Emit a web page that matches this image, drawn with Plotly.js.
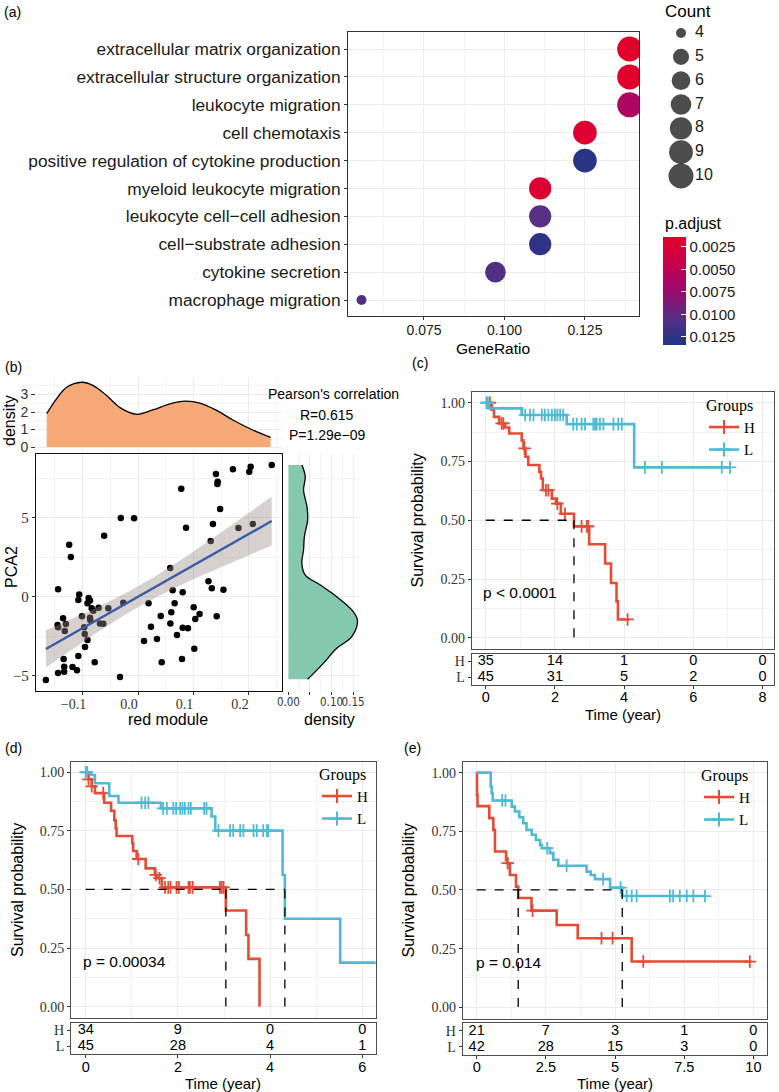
<!DOCTYPE html>
<html><head><meta charset="utf-8">
<script src="https://cdn.plot.ly/plotly-3.0.1.min.js"></script>
<style>html,body{margin:0;padding:0;background:#fff}</style>
</head><body><div id="chart" style="width:779px;height:1092px"></div>
<script>
// ---------------- DATA ----------------
// (a) GO enrichment dot plot
const goTerms = ["extracellular matrix organization","extracellular structure organization","leukocyte migration","cell chemotaxis","positive regulation of cytokine production","myeloid leukocyte migration","leukocyte cell\u2212cell adhesion","cell\u2212substrate adhesion","cytokine secretion","macrophage migration"];
const geneRatio = [0.1389,0.1389,0.1389,0.125,0.125,0.1111,0.1111,0.1111,0.0972,0.0556];
const goCount = [10,10,10,9,9,8,8,8,7,4];
const pAdjust = [0.0015,0.0015,0.0062,0.0019,0.0128,0.0021,0.0104,0.0124,0.0106,0.0107];
const countLegend = [4,5,6,7,8,9,10];
const pTicks = [0.0025,0.0050,0.0075,0.0100,0.0125];
const geneRatioTicks = [0.075,0.100,0.125];

// (b) correlation scatter with marginal densities
const redModule = [0.241,0.203,0.2005,0.171,0.1405,0.1436,0.143,0.078,0.148,-0.031,-0.007,0.135,0.0865,0.181,0.207,-0.061,0.131,-0.124,-0.121,0.058,-0.144,0.127,0.133,0.154,0.0625,0.0805,-0.106,-0.089,
 -0.166,-0.145,-0.144,-0.135,-0.132,-0.130,-0.134,-0.133,-0.133,-0.144,-0.118,-0.110,-0.1075,-0.1075,-0.101,-0.097,-0.096,-0.0955,-0.091,-0.0865,-0.091,-0.0835,-0.0805,-0.0865,-0.086,-0.078,-0.071,-0.0685,-0.0625,-0.0535,-0.0324,-0.0265,
 0.0108,0.019,0.0234,0.0342,0.041,0.0427,0.0583,0.060,0.066,0.0703,0.0793,0.0805,0.090,0.1003,0.1015,0.1033,0.111,0.1418];
const pca2 = [8.35,8.25,7.93,8.08,7.78,7.30,7.15,6.85,5.57,5.0,4.98,4.62,4.39,4.37,4.62,3.88,3.54,3.31,2.53,1.84,0.49,0.99,0.55,0.46,0.42,0.30,0.15,-0.06,
 -5.25,-1.77,-1.92,-1.35,-2.15,-1.71,-3.92,-4.41,-4.73,-4.81,-4.43,-4.64,-3.73,-0.19,-1.22,-1.92,-2.34,-3.16,-2.72,-0.23,-0.40,-0.72,-0.87,-1.31,-1.46,-4.13,-0.68,-1.67,-1.69,-0.72,-5.06,-0.36,
 -2.78,-0.40,-1.88,-2.66,-1.20,-4.13,-1.67,-0.97,-0.40,-2.41,-3.92,-1.94,-1.98,-0.65,-3.27,-1.39,-1.08,-1.22];
const topDensX = [-0.1645,-0.1465,-0.1285,-0.1015,-0.0805,-0.0565,-0.0324,-0.0023,0.0276,0.0577,0.0847,0.1117,0.1418,0.1718,0.2077,0.239];
const topDensY = [1.91,2.76,3.41,3.70,3.51,2.94,2.25,1.87,2.13,2.47,2.62,2.51,2.09,1.53,0.96,0.55];
const rightDensX = [0.0315,0.039,0.035,0.043,0.0445,0.037,0.035,0.031,0.039,0.074,0.112,0.147,0.160,0.147,0.112,0.081,0.0445];
const rightDensY = [8.35,7.61,6.77,5.72,4.87,3.82,2.97,2.13,1.39,0.76,0.02,-0.82,-1.46,-2.51,-3.25,-4.20,-5.21];

// (c) Kaplan-Meier
const cHTime = [0,0.17,0.24,0.39,0.56,0.68,1.04,1.09,1.15,1.23,1.55,1.60,1.65,1.91,2.03,2.17,2.55,2.99,3.45,3.62,3.78,3.82,4.15];
const cHSurv = [1.0,0.97,0.94,0.912,0.895,0.869,0.84,0.806,0.77,0.735,0.706,0.678,0.628,0.592,0.571,0.528,0.474,0.398,0.316,0.233,0.155,0.078,0.078];
const cHCens = [0.12,0.46,0.51,1.12,1.74,1.81,2.07,2.29,2.77,2.92,2.96,4.10];
const cLTime = [0,0.08,1.04,2.34,4.29,7.08];
const cLSurv = [1.0,0.976,0.948,0.909,0.725,0.725];
const cLCens = [0.02,0.06,1.14,1.28,1.38,1.62,1.71,1.81,1.91,2.0,2.07,2.15,2.24,2.53,2.63,2.77,2.87,3.11,3.16,3.21,3.30,3.40,3.69,3.83,3.93,4.6,5.09,6.82,7.06];
const cRiskTimes = [0,2,4,6,8];
const cRiskH = [35,14,1,0,0];
const cRiskL = [45,31,5,2,0];

// (d) Kaplan-Meier
const dHTime = [0,0.06,0.13,0.20,0.40,0.55,0.62,0.65,0.67,1.01,1.03,1.105,1.30,1.50,1.55,1.65,3.04,3.48,3.53,3.77];
const dHSurv = [1.0,0.97,0.94,0.911,0.870,0.836,0.796,0.761,0.728,0.697,0.664,0.630,0.590,0.562,0.548,0.509,0.410,0.306,0.204,0.0];
const dHCens = [0.06,0.13,0.38,1.14,1.52,1.60,1.72,1.79,1.84,1.97,2.02,2.23,2.26,2.32,2.91,2.95,2.99];
const dLTime = [0,0.11,0.20,0.51,0.71,1.63,2.73,2.81,4.27,4.32,5.52,6.5];
const dLSurv = [1.0,0.988,0.953,0.899,0.870,0.846,0.811,0.751,0.562,0.375,0.188,0.188];
const dLCens = [0.0,0.03,1.21,1.29,1.36,1.68,1.76,1.90,1.96,2.05,2.10,2.15,2.23,2.28,2.57,2.62,2.88,3.13,3.20,3.35,3.42,3.64,3.71,3.85,3.93,3.96];
const dRiskTimes = [0,2,4,6];
const dRiskH = [34,9,0,0];
const dRiskL = [45,28,4,1];

// (e) Kaplan-Meier
const eHTime = [0,0.01,0.03,0.456,0.60,0.66,1.06,1.10,1.20,1.42,1.50,1.98,2.89,3.65,5.6,9.93];
const eHSurv = [1,0.905,0.857,0.806,0.756,0.664,0.628,0.614,0.564,0.514,0.466,0.412,0.351,0.294,0.195,0.195];
const eHCens = [1.12,2.02,4.51,4.91,6.02,9.87];
const eLTime = [0,0.505,0.54,0.577,1.263,1.38,1.54,1.68,1.80,1.99,2.14,2.29,2.35,2.65,2.77,2.95,3.97,4.12,4.27,4.82,5.26,8.31];
const eLSurv = [1,0.941,0.912,0.881,0.855,0.834,0.81,0.784,0.756,0.735,0.713,0.692,0.678,0.657,0.629,0.603,0.578,0.564,0.546,0.510,0.474,0.474];
const eLCens = [0.92,1.04,2.55,3.25,4.57,5.20,5.42,5.60,5.78,6.98,7.10,7.34,7.59,7.83,8.25];
const eRiskTimes = [0,2.5,5,7.5,10];
const eRiskH = [21,7,3,1,0];
const eRiskL = [42,28,15,3,0];

// ---------------- HELPERS ----------------
const W=779, H=1092;
const dx=(l,r)=>[l/W, r/W];
const dy=(t,b)=>[1-b/H, 1-t/H];
const SANS='Arial, "Liberation Sans", sans-serif';
const NARROW='"Liberation Sans Narrow", "Arial Narrow", "DejaVu Sans Condensed", Arial, sans-serif';
const SERIF='"Times New Roman", "Liberation Serif", serif';
const GRID='#EBEBEB', MINOR='#F3F3F3';
const RED='#E64B35', BLUE='#4DBBD5';
const traces=[];
const layout={width:W,height:H,margin:{l:0,r:0,t:0,b:0},paper_bgcolor:'#fff',plot_bgcolor:'rgba(0,0,0,0)',
  font:{family:SANS,color:'#000'},annotations:[],showlegend:true};
function ann(text,x,y,o){layout.annotations.push(Object.assign({text:text,x:x/W,y:1-y/H,xref:'paper',yref:'paper',showarrow:false,xanchor:'center',yanchor:'middle',font:{family:SANS,size:15,color:'#000'}},o||{}));}
function survAt(time,surv,t){let s=surv[0];for(let i=0;i<time.length;i++){if(time[i]<=t)s=surv[i];}return s;}

// ---------------- (a) ----------------
const sizeOf=c=>10+15*Math.sqrt((c-4)/6);
traces.push({type:'scatter',mode:'markers',x:geneRatio,y:goTerms,xaxis:'x',yaxis:'y',showlegend:false,hoverinfo:'skip',
  marker:{size:goCount.map(sizeOf),color:pAdjust.map(p=>-p),cmin:-0.0134,cmax:-0.00139,opacity:1,
    colorscale:[[0,'#1C3586'],[0.25,'#572F84'],[0.5,'#9A0A6E'],[0.75,'#C8004C'],[1,'#E2002A']],line:{width:0},
    colorbar:{x:663/W,xanchor:'left',xref:'paper',y:1-291/H,yanchor:'middle',yref:'paper',len:108,lenmode:'pixels',thickness:23,thicknessmode:'pixels',
      outlinewidth:0,xpad:0,ypad:0,tickvals:pTicks.map(v=>-v),ticktext:pTicks.map(v=>v.toFixed(4)),ticks:'inside',ticklen:5,tickcolor:'#fff',
      tickfont:{family:SANS,size:15,color:'#1a1a1a'}}}});
layout.xaxis={domain:dx(348,639),range:[0.0514,0.1418],tickvals:geneRatioTicks,ticktext:geneRatioTicks.map(v=>v.toFixed(3)),ticks:'outside',ticklen:3,tickcolor:'#333',
  tickfont:{size:14,color:'#1a1a1a'},ticklabelstandoff:-2,showgrid:true,gridcolor:GRID,minor:{tickvals:[0.0625,0.0875,0.1125,0.1375],showgrid:true,gridcolor:MINOR,ticks:''},
  showline:true,mirror:true,linecolor:'#333',linewidth:1,zeroline:false,anchor:'y'};
layout.yaxis={domain:dy(32,316),type:'category',categoryorder:'array',categoryarray:goTerms.slice().reverse(),range:[-0.573,9.61],ticks:'outside',ticklen:3,tickcolor:'#333',
  tickfont:{size:17.3,color:'#1a1a1a'},showgrid:true,gridcolor:GRID,showline:true,mirror:true,linecolor:'#333',zeroline:false,anchor:'x'};
// size legend
traces.push({type:'scatter',mode:'markers',x:countLegend.map(()=>0.3),y:countLegend,xaxis:'x2',yaxis:'y2',showlegend:false,hoverinfo:'skip',
  marker:{size:countLegend.map(sizeOf),color:'#000',line:{width:0}},cliponaxis:false});
traces.push({type:'scatter',mode:'text',x:countLegend.map(()=>0.5),y:countLegend,text:countLegend.map(String),textposition:'middle right',
  textfont:{family:SANS,size:16,color:'#1a1a1a'},xaxis:'x2',yaxis:'y2',showlegend:false,hoverinfo:'skip',cliponaxis:false});
layout.xaxis2={domain:dx(660,730),range:[0,1],visible:false,anchor:'y2'};
layout.yaxis2={domain:dy(20,190),range:[10.587,3.455],visible:false,anchor:'x2'};
ann('(a)',12,12,{font:{family:SANS,size:14,color:'#000'}});
ann('Count',663,12,{xanchor:'left',font:{family:SANS,size:17,color:'#000'}});
ann('p.adjust',663,224,{xanchor:'left',font:{family:SANS,size:16,color:'#000'}});
ann('GeneRatio',493,348,{font:{family:SANS,size:15.5,color:'#000'}});

// ---------------- (b) ----------------
const n=redModule.length;
const mx=redModule.reduce((a,b)=>a+b,0)/n, my=pca2.reduce((a,b)=>a+b,0)/n;
let sxx=0,sxy=0;for(let i=0;i<n;i++){sxx+=(redModule[i]-mx)**2;sxy+=(redModule[i]-mx)*(pca2[i]-my);}
const slope=sxy/sxx, icpt=my-slope*mx;
let sse=0;for(let i=0;i<n;i++){sse+=(pca2[i]-icpt-slope*redModule[i])**2;}
const sres=Math.sqrt(sse/(n-2)), tq=1.991;
const xmin=Math.min(...redModule), xmax=Math.max(...redModule);
const fx=[];for(let k=0;k<=60;k++)fx.push(xmin+(xmax-xmin)*k/60);
const fy=fx.map(x=>icpt+slope*x);
const fse=fx.map(x=>tq*sres*Math.sqrt(1/n+(x-mx)**2/sxx));
traces.push({type:'scatter',mode:'markers',x:redModule,y:pca2,xaxis:'x4',yaxis:'y4',showlegend:false,hoverinfo:'skip',marker:{size:6.5,color:'#000'}});
traces.push({type:'scatter',mode:'lines',x:fx.concat(fx.slice().reverse()),y:fy.map((v,i)=>v+fse[i]).concat(fy.map((v,i)=>v-fse[i]).reverse()),fill:'toself',
  fillcolor:'rgba(153,140,135,0.4)',line:{width:0},xaxis:'x4',yaxis:'y4',showlegend:false,hoverinfo:'skip'});
traces.push({type:'scatter',mode:'lines',x:fx,y:fy,line:{color:'#3A5BA6',width:2.4},xaxis:'x4',yaxis:'y4',showlegend:false,hoverinfo:'skip'});
traces.push({type:'scatter',mode:'lines',x:topDensX,y:topDensY,fill:'tozeroy',fillcolor:'#F5A977',line:{color:'#000',width:1.3,shape:'spline'},xaxis:'x3',yaxis:'y3',showlegend:false,hoverinfo:'skip'});
traces.push({type:'scatter',mode:'lines',x:rightDensX,y:rightDensY,fill:'tozerox',fillcolor:'#84C8AF',line:{color:'#000',width:1.3,shape:'spline'},xaxis:'x5',yaxis:'y5',showlegend:false,hoverinfo:'skip'});
const bx=[-0.1838,0.2595], by=[-5.95,9.05];
layout.xaxis3={domain:dx(36,282),range:bx,tickvals:[-0.1,0,0.1,0.2],showticklabels:false,ticks:'',showgrid:true,gridcolor:GRID,
  minor:{tickvals:[-0.15,-0.05,0.05,0.15,0.25],showgrid:true,gridcolor:MINOR},zeroline:false,showline:false,anchor:'y3'};
layout.yaxis3={domain:dy(377,450),range:[-0.17,4.0],tickvals:[0,1,2,3],ticks:'outside',ticklen:4,tickcolor:'#333',tickfont:{family:SANS,size:14,color:'#333'},
  showgrid:true,gridcolor:GRID,minor:{tickvals:[0.5,1.5,2.5,3.5],showgrid:true,gridcolor:MINOR},zeroline:false,showline:false,anchor:'x3'};
layout.xaxis4={domain:dx(36,282),range:bx,tickvals:[-0.1,0,0.1,0.2],ticktext:['\u22120.1','0.0','0.1','0.2'],ticks:'outside',ticklen:3,tickcolor:'#333',
  tickfont:{family:SERIF,size:14,color:'#333'},ticklabelshift:-9,ticklabelstandoff:-3,showgrid:true,gridcolor:GRID,minor:{tickvals:[-0.15,-0.05,0.05,0.15,0.25],showgrid:true,gridcolor:MINOR},
  showline:true,mirror:true,linecolor:'#111',linewidth:1.2,zeroline:false,anchor:'y4'};
layout.yaxis4={domain:dy(454,691),range:by,tickvals:[-5,0,5],ticktext:['\u22125','0','5'],ticks:'outside',ticklen:3,tickcolor:'#333',
  tickfont:{family:SERIF,size:15,color:'#333'},showgrid:true,gridcolor:GRID,minor:{tickvals:[-2.5,2.5,7.5],showgrid:true,gridcolor:MINOR},
  showline:true,mirror:true,linecolor:'#111',linewidth:1.2,zeroline:false,anchor:'x4'};
layout.xaxis5={domain:dx(288,360),range:[-0.001,0.166],tickvals:[0,0.05,0.1,0.15],ticktext:['0.00','','0.10','0.15'],tickangle:0,ticks:'outside',ticklen:3,tickcolor:'#333',
  tickfont:{family:NARROW,size:11.5,color:'#333'},ticklabelstandoff:-3,showgrid:true,gridcolor:GRID,minor:{tickvals:[0.025,0.075,0.125],showgrid:true,gridcolor:MINOR},zeroline:false,showline:false,anchor:'y5'};
layout.yaxis5={domain:dy(454,691),range:by,tickvals:[-5,0,5],showticklabels:false,ticks:'',showgrid:true,gridcolor:GRID,
  minor:{tickvals:[-2.5,2.5,7.5],showgrid:true,gridcolor:MINOR},zeroline:false,showline:false,anchor:'x5'};
ann('(b)',13,367,{font:{family:SANS,size:14,color:'#000'}});
ann('density',10,421,{textangle:-90,font:{family:SANS,size:16,color:'#000'}});
ann('PCA2',11,567,{textangle:-90,font:{family:SANS,size:16,color:'#000'}});
ann('red module',168,719,{font:{family:SANS,size:16,color:'#000'}});
ann('density',329,719,{font:{family:SANS,size:16,color:'#000'}});
ann("Pearson's correlation",333,394,{font:{family:SANS,size:14,color:'#000'}});
ann('R=0.615',327,415,{font:{family:SANS,size:14,color:'#000'}});
ann('P=1.29e\u221209',327,435,{font:{family:SANS,size:14,color:'#000'}});

// ---------------- KM panels ----------------
function addKM(c){
  const xm='x'+c.n, ym='y'+c.n, xt='x'+(c.n+1), yt='y'+(c.n+1);
  const groups=[['H',c.HT,c.HS,c.HC,RED],['L',c.LT,c.LS,c.LC,BLUE]];
  const meds=[];
  groups.forEach(g=>{
    traces.push({type:'scatter',mode:'lines',x:g[1],y:g[2],line:{shape:'hv',color:g[4],width:2.6},xaxis:xm,yaxis:ym,showlegend:false,hoverinfo:'skip'});
    traces.push({type:'scatter',mode:'markers',x:g[3],y:g[3].map(t=>survAt(g[1],g[2],t)),marker:{symbol:'cross-thin',size:9,line:{color:g[4],width:1.8}},
      xaxis:xm,yaxis:ym,showlegend:false,hoverinfo:'skip',cliponaxis:false});
    const i=g[2].findIndex(s=>s<=0.5); if(i>=0) meds.push(g[1][i]);
  });
  if(meds.length){
    const m=Math.max(...meds);
    traces.push({type:'scatter',mode:'lines',x:[0,m],y:[0.5,0.5],line:{color:'#000',width:1.3,dash:'dash'},xaxis:xm,yaxis:ym,showlegend:false,hoverinfo:'skip'});
    meds.forEach(v=>traces.push({type:'scatter',mode:'lines',x:[v,v],y:[0.5,0],line:{color:'#000',width:1.3,dash:'dash'},xaxis:xm,yaxis:ym,showlegend:false,hoverinfo:'skip'}));
  }
  groups.forEach(g=>traces.push({type:'scatter',mode:'lines+markers',x:[null],y:[null],name:g[0],legend:c.legend,
    line:{color:g[4],width:2.6},marker:{symbol:'cross-thin',size:10,line:{color:g[4],width:2}},xaxis:xm,yaxis:ym,hoverinfo:'skip'}));
  const rt=c.RT;
  traces.push({type:'scatter',mode:'text',x:rt.concat(rt),y:rt.map(()=>1).concat(rt.map(()=>0)),text:c.RH.concat(c.RL).map(String),
    textfont:{family:SANS,size:14.5,color:'#000'},xaxis:xt,yaxis:yt,showlegend:false,hoverinfo:'skip',cliponaxis:false});
  const ax={range:c.xr,tickvals:rt,showgrid:true,gridcolor:GRID,minor:{tickvals:c.minor,showgrid:true,gridcolor:MINOR},zeroline:false,
    showline:true,mirror:true,linecolor:'#4d4d4d',linewidth:1};
  layout['xaxis'+c.n]=Object.assign({},ax,{domain:dx(c.l,c.r),showticklabels:false,ticks:'',anchor:ym});
  layout['yaxis'+c.n]={domain:dy(c.t,c.b),range:c.yr,tickvals:[0,0.25,0.5,0.75,1],ticktext:['0.00','0.25','0.50','0.75','1.00'],ticks:'outside',ticklen:3,tickcolor:'#333',
    tickfont:{family:SERIF,size:14,color:'#333'},showgrid:true,gridcolor:GRID,minor:{tickvals:[0.125,0.375,0.625,0.875],showgrid:true,gridcolor:MINOR},
    zeroline:false,showline:true,mirror:true,linecolor:'#4d4d4d',linewidth:1,anchor:xm};
  layout['xaxis'+(c.n+1)]={domain:dx(c.l,c.r),range:c.xr,tickvals:rt,ticktext:c.RTT,ticks:'outside',ticklen:3,tickcolor:'#333',tickfont:{family:SANS,size:14.5,color:'#000'},
    ticklabelstandoff:-4,showgrid:false,zeroline:false,showline:true,mirror:true,linecolor:'#4d4d4d',linewidth:1,anchor:yt};
  layout['yaxis'+(c.n+1)]={domain:dy(c.tt,c.tb),range:c.tr,tickvals:[1,0],ticktext:['H','L'],ticks:'outside',ticklen:3,tickcolor:'#333',
    tickfont:{family:SERIF,size:14,color:'#333'},showgrid:false,zeroline:false,showline:true,mirror:true,linecolor:'#4d4d4d',linewidth:1,anchor:xt};
  layout[c.legendKey]={x:c.lx/W,y:1-c.ly/H,xanchor:'left',yanchor:'top',bgcolor:'rgba(0,0,0,0)',borderwidth:0,tracegroupgap:0,
    title:{text:'Groups',font:{family:SERIF,size:16,color:'#000'}},font:{family:SERIF,size:15,color:'#000'},itemwidth:30};
  ann(c.label,c.labx,c.laby,{font:{family:SANS,size:14,color:'#000'}});
  ann('Survival probability',c.spx,(c.t+c.b)/2,{textangle:-90,font:{family:SANS,size:16,color:'#000'}});
  ann('Time (year)',(c.l+c.r)/2,c.tyy,{font:{family:SANS,size:15,color:'#000'}});
  ann(c.ptext,c.px,c.py,{font:{family:SANS,size:15.5,color:'#000'}});
}
addKM({n:6,HT:cHTime,HS:cHSurv,HC:cHCens,LT:cLTime,LS:cLSurv,LC:cLCens,RT:cRiskTimes,RTT:cRiskTimes.map(String),RH:cRiskH,RL:cRiskL,
  l:471.7,r:774,t:391.7,b:649.3,tt:654,tb:685,xr:[-0.405,8.33],yr:[-0.049,1.047],tr:[-0.5,1.4375],minor:[1,3,5,7],
  legend:'legend',legendKey:'legend',lx:704,ly:390,label:'(c)',labx:420,laby:363,spx:417,tyy:714,ptext:'p < 0.0001',px:520,py:592});
addKM({n:8,HT:dHTime,HS:dHSurv,HC:dHCens,LT:dLTime,LS:dLSurv,LC:dLCens,RT:dRiskTimes,RTT:dRiskTimes.map(String),RH:dRiskH,RL:dRiskL,
  l:71,r:375.7,t:761.7,b:1018.3,tt:1022.7,tb:1054.3,xr:[-0.319,6.29],yr:[-0.0495,1.045],tr:[-0.49,1.49],minor:[1,3,5],
  legend:'legend2',legendKey:'legend2',lx:317,ly:759,label:'(d)',labx:13,laby:748,spx:17,tyy:1083.5,ptext:'p = 0.00034',px:124,py:961});
addKM({n:10,HT:eHTime,HS:eHSurv,HC:eHCens,LT:eLTime,LS:eLSurv,LC:eLCens,RT:eRiskTimes,RTT:['0','2.5','5','7.5','10'],RH:eRiskH,RL:eRiskL,
  l:462.7,r:766.7,t:761.7,b:1019.3,tt:1023.3,tb:1055,xr:[-0.506,10.48],yr:[-0.0511,1.0465],tr:[-0.5,1.48],minor:[1.25,3.75,6.25,8.75],
  legend:'legend3',legendKey:'legend3',lx:699,ly:760,label:'(e)',labx:412,laby:748,spx:408,tyy:1083.5,ptext:'p = 0.014',px:508,py:962});

Plotly.newPlot('chart',traces,layout,{staticPlot:true,displayModeBar:false});
</script>
</body></html>
